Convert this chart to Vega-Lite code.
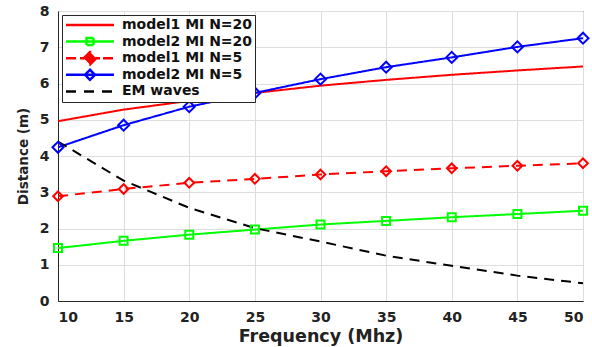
{
  "$schema": "https://vega.github.io/schema/vega-lite/v6.json",
  "width": 525,
  "height": 290,
  "autosize": {"type": "none"},
  "padding": {"left": 58, "top": 11, "right": 9, "bottom": 46},
  "background": "white",
  "config": {
    "view": {"stroke": "#262626", "strokeWidth": 1},
    "font": "DejaVu Sans",
    "axis": {
      "domainColor": "#262626",
      "gridColor": "#dedede",
      "gridWidth": 1,
      "ticks": false,
      "tickSize": 0,
      "labelFont": "DejaVu Sans",
      "labelFontWeight": "bold",
      "labelFontSize": 14,
      "labelColor": "#222222",
      "titleFont": "DejaVu Sans",
      "titleFontWeight": "bold",
      "titleColor": "#222222"
    }
  },
  "data": {
    "values": [
      {"s": "model1 MI N=20", "f": 10, "d": 4.96},
      {"s": "model1 MI N=20", "f": 15, "d": 5.28},
      {"s": "model1 MI N=20", "f": 20, "d": 5.52},
      {"s": "model1 MI N=20", "f": 25, "d": 5.74},
      {"s": "model1 MI N=20", "f": 30, "d": 5.94},
      {"s": "model1 MI N=20", "f": 35, "d": 6.1},
      {"s": "model1 MI N=20", "f": 40, "d": 6.24},
      {"s": "model1 MI N=20", "f": 45, "d": 6.36},
      {"s": "model1 MI N=20", "f": 50, "d": 6.47},
      {"s": "model2 MI N=20", "f": 10, "d": 1.46},
      {"s": "model2 MI N=20", "f": 15, "d": 1.66},
      {"s": "model2 MI N=20", "f": 20, "d": 1.83},
      {"s": "model2 MI N=20", "f": 25, "d": 1.97},
      {"s": "model2 MI N=20", "f": 30, "d": 2.11},
      {"s": "model2 MI N=20", "f": 35, "d": 2.21},
      {"s": "model2 MI N=20", "f": 40, "d": 2.31},
      {"s": "model2 MI N=20", "f": 45, "d": 2.4},
      {"s": "model2 MI N=20", "f": 50, "d": 2.49},
      {"s": "model1 MI N=5", "f": 10, "d": 2.89},
      {"s": "model1 MI N=5", "f": 15, "d": 3.09},
      {"s": "model1 MI N=5", "f": 20, "d": 3.26},
      {"s": "model1 MI N=5", "f": 25, "d": 3.37},
      {"s": "model1 MI N=5", "f": 30, "d": 3.49},
      {"s": "model1 MI N=5", "f": 35, "d": 3.58},
      {"s": "model1 MI N=5", "f": 40, "d": 3.66},
      {"s": "model1 MI N=5", "f": 45, "d": 3.73},
      {"s": "model1 MI N=5", "f": 50, "d": 3.8},
      {"s": "model2 MI N=5", "f": 10, "d": 4.24},
      {"s": "model2 MI N=5", "f": 15, "d": 4.85},
      {"s": "model2 MI N=5", "f": 20, "d": 5.36},
      {"s": "model2 MI N=5", "f": 25, "d": 5.74},
      {"s": "model2 MI N=5", "f": 30, "d": 6.12},
      {"s": "model2 MI N=5", "f": 35, "d": 6.45},
      {"s": "model2 MI N=5", "f": 40, "d": 6.72},
      {"s": "model2 MI N=5", "f": 45, "d": 7.01},
      {"s": "model2 MI N=5", "f": 50, "d": 7.25},
      {"s": "EM waves", "f": 10, "d": 4.4},
      {"s": "EM waves", "f": 15, "d": 3.32},
      {"s": "EM waves", "f": 20, "d": 2.57},
      {"s": "EM waves", "f": 25, "d": 2.01},
      {"s": "EM waves", "f": 30, "d": 1.64},
      {"s": "EM waves", "f": 35, "d": 1.25},
      {"s": "EM waves", "f": 40, "d": 0.97},
      {"s": "EM waves", "f": 45, "d": 0.7},
      {"s": "EM waves", "f": 50, "d": 0.49}
    ]
  },
  "encoding": {
    "x": {
      "field": "f",
      "type": "quantitative",
      "scale": {"domain": [10, 50], "nice": false, "zero": false},
      "axis": {
        "values": [10, 15, 20, 25, 30, 35, 40, 45, 50],
        "title": "Frequency (Mhz)",
        "titleFontSize": 17.5,
        "labelPadding": 9,
        "titlePadding": 3
      }
    },
    "y": {
      "field": "d",
      "type": "quantitative",
      "scale": {"domain": [0, 8], "nice": false},
      "axis": {
        "values": [0, 1, 2, 3, 4, 5, 6, 7, 8],
        "title": "Distance (m)",
        "titleFontSize": 13.5,
        "labelPadding": 9,
        "titlePadding": 9
      }
    },
    "color": {
      "field": "s",
      "type": "nominal",
      "scale": {
        "domain": ["model1 MI N=20", "model2 MI N=20", "model1 MI N=5", "model2 MI N=5", "EM waves"],
        "range": ["#ff0000", "#00ff00", "#ff0000", "#0000ff", "#000000"]
      },
      "legend": {
        "title": null,
        "orient": "top-left",
        "offset": 4,
        "padding": 2,
        "strokeColor": "#262626",
        "fillColor": "white",
        "symbolSize": 100,
        "symbolStrokeWidth": 2.5,
        "symbolOffset": 19,
        "labelOffset": 25,
        "labelFont": "DejaVu Sans",
        "labelFontWeight": "bold",
        "labelFontSize": 14,
        "labelColor": "#111111",
        "clipHeight": 16,
        "rowPadding": 0.6,
        "encode": {
          "symbols": {
            "update": {
              "shape": {"signal": "datum.value === 'model1 MI N=20' ? 'M-4.8,0H4.8' : datum.value === 'model2 MI N=20' ? 'M-4.8,0H4.8M-0.7,-0.7H0.7V0.7H-0.7Z' : datum.value === 'model1 MI N=5' ? 'M-4.8,0H-2.6M-2,0H-1.2M1.2,0H2M2.6,0H4.8M-1.25,0L0,-1.25L1.25,0L0,1.25Z' : datum.value === 'model2 MI N=5' ? 'M-4.8,0H4.8M-1,0L0,-1L1,0L0,1Z' : 'M-4.8,0H-2.4M-1.2,0H1.2M2.4,0H4.8'"},
              "fill": {"signal": "datum.value === 'model1 MI N=5' ? '#ff0000' : 'transparent'"},
              "strokeDash": {"value": []}
            }
          }
        }
      }
    }
  },
  "layer": [
    {
      "mark": {"type": "line", "strokeWidth": 2},
      "encoding": {
        "strokeDash": {
          "field": "s",
          "type": "nominal",
          "scale": {
            "domain": ["model1 MI N=20", "model2 MI N=20", "model1 MI N=5", "model2 MI N=5", "EM waves"],
            "range": [[1, 0], [1, 0], [10, 7], [1, 0], [10, 7]]
          },
          "legend": null
        }
      }
    },
    {
      "transform": [{"filter": "datum.s !== 'model1 MI N=20' && datum.s !== 'EM waves'"}],
      "mark": {"type": "point", "filled": false, "strokeWidth": 2, "opacity": 1},
      "encoding": {
        "shape": {
          "field": "s",
          "type": "nominal",
          "scale": {
            "domain": ["model2 MI N=20", "model1 MI N=5", "model2 MI N=5"],
            "range": ["square", "diamond", "diamond"]
          },
          "legend": null
        },
        "size": {
          "field": "s",
          "type": "nominal",
          "scale": {
            "domain": ["model2 MI N=20", "model1 MI N=5", "model2 MI N=5"],
            "range": [64, 121, 121]
          },
          "legend": null
        }
      }
    }
  ]
}
